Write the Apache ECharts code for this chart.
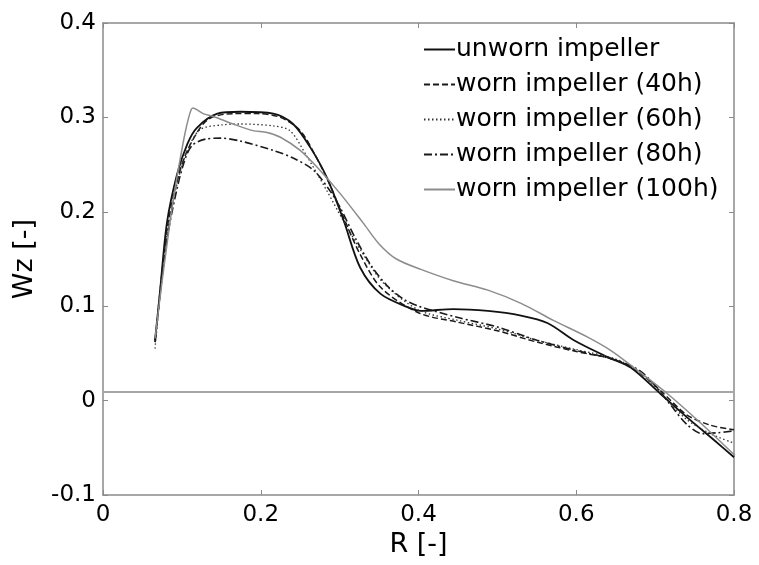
<!DOCTYPE html>
<html>
<head>
<meta charset="utf-8">
<script src="https://cdn.jsdelivr.net/npm/echarts@6/dist/echarts.min.js"></script>
<style>
  html, body { margin: 0; padding: 0; background: #fff; }
  #chart { width: 759px; height: 565px; }
</style>
</head>
<body>
<div id="chart"></div>
<script>
// Axis ranges / ticks
var xTicks = [0, 0.2, 0.4, 0.6, 0.8];
var yTicks = [-0.1, 0, 0.1, 0.2, 0.3, 0.4];

// Horizontal reference level drawn across the plot
var refLevel = 0.009;

// [R, Wz]
var unworn = [
    [0.066, 0.064], [0.072, 0.113], [0.081, 0.188], [0.094, 0.240], [0.107, 0.272],
    [0.119, 0.289], [0.145, 0.304], [0.174, 0.306], [0.216, 0.304], [0.241, 0.293],
    [0.263, 0.268], [0.284, 0.236], [0.305, 0.191], [0.326, 0.141], [0.352, 0.113],
    [0.386, 0.099], [0.403, 0.095], [0.444, 0.097], [0.488, 0.095], [0.530, 0.090],
    [0.564, 0.082], [0.597, 0.064], [0.640, 0.046], [0.669, 0.035], [0.707, 0.007],
    [0.745, -0.021], [0.775, -0.042], [0.800, -0.060]
];

var worn40 = [
    [0.066, 0.062], [0.081, 0.180], [0.094, 0.233], [0.107, 0.265], [0.132, 0.297],
    [0.165, 0.304], [0.196, 0.304], [0.225, 0.300], [0.250, 0.286], [0.269, 0.260],
    [0.288, 0.228], [0.307, 0.190], [0.326, 0.155], [0.352, 0.120], [0.400, 0.093],
    [0.450, 0.083], [0.500, 0.074], [0.550, 0.062], [0.600, 0.052], [0.650, 0.043],
    [0.680, 0.030], [0.710, 0.008], [0.740, -0.015], [0.770, -0.026], [0.800, -0.031]
];

var worn60 = [
    [0.066, 0.055], [0.080, 0.170], [0.094, 0.230], [0.107, 0.265], [0.123, 0.287],
    [0.150, 0.292], [0.174, 0.293], [0.216, 0.291], [0.237, 0.286], [0.259, 0.258],
    [0.284, 0.222], [0.305, 0.190], [0.330, 0.155], [0.355, 0.125], [0.400, 0.096],
    [0.450, 0.085], [0.500, 0.076], [0.550, 0.064], [0.600, 0.054], [0.650, 0.044],
    [0.680, 0.030], [0.710, 0.005], [0.740, -0.020], [0.770, -0.035], [0.800, -0.045]
];

var worn80 = [
    [0.066, 0.062], [0.080, 0.165], [0.094, 0.225], [0.105, 0.258], [0.114, 0.271],
    [0.130, 0.277], [0.149, 0.278], [0.174, 0.275], [0.216, 0.265], [0.241, 0.257],
    [0.267, 0.244], [0.288, 0.222], [0.301, 0.204], [0.320, 0.172], [0.340, 0.143],
    [0.360, 0.122], [0.380, 0.108], [0.400, 0.100], [0.450, 0.088], [0.500, 0.078],
    [0.550, 0.064], [0.600, 0.053], [0.650, 0.043], [0.680, 0.032], [0.700, 0.016],
    [0.720, -0.005], [0.740, -0.025], [0.760, -0.035], [0.780, -0.034], [0.800, -0.032]
];

var worn100 = [
    [0.066, 0.066], [0.075, 0.127], [0.089, 0.212], [0.102, 0.275],
    [0.110, 0.304], [0.114, 0.310], [0.127, 0.304], [0.140, 0.301], [0.165, 0.293],
    [0.190, 0.286], [0.208, 0.284], [0.225, 0.279], [0.250, 0.265], [0.275, 0.244],
    [0.301, 0.219], [0.330, 0.188], [0.350, 0.166], [0.372, 0.150], [0.403, 0.139],
    [0.444, 0.127], [0.488, 0.117], [0.530, 0.103], [0.571, 0.085], [0.615, 0.067],
    [0.644, 0.053], [0.673, 0.035], [0.716, 0.007], [0.758, -0.024], [0.801, -0.058]
];

var names = [
    'unworn impeller',
    'worn impeller (40h)',
    'worn impeller (60h)',
    'worn impeller (80h)',
    'worn impeller (100h)'
];

var font = 'DejaVu Sans';
var axisGray = '#8a8a8a';

var chart = echarts.init(document.getElementById('chart'));

function lineSeries(name, data, color, width, type) {
    return {
        name: name,
        type: 'line',
        data: data,
        showSymbol: false,
        symbol: 'none',
        smooth: 0.3,
        lineStyle: { color: color, width: width, type: type },
        itemStyle: { color: color },
        z: 3
    };
}

var refSeries = lineSeries('ref', [[xTicks[0], refLevel], [xTicks[xTicks.length - 1], refLevel]], '#a6a6a6', 2, 'solid');
refSeries.smooth = false;
refSeries.z = 2;

function boxAxis(pos) {
    return {
        type: 'value',
        position: pos,
        axisLine: { show: true, onZero: false, lineStyle: { color: axisGray, width: 1.5 } },
        axisTick: { show: true, inside: true, length: 5, lineStyle: { color: axisGray } },
        axisLabel: { show: false },
        splitLine: { show: false }
    };
}

var topAxis = boxAxis('top');
topAxis.min = xTicks[0]; topAxis.max = xTicks[4]; topAxis.interval = 0.2;
var rightAxis = boxAxis('right');
rightAxis.min = yTicks[0]; rightAxis.max = yTicks[5]; rightAxis.interval = 0.1;

var option = {
    animation: false,
    backgroundColor: '#fff',
    grid: { left: 103, right: 25, top: 23, bottom: 70 },
    legend: {
        orient: 'vertical',
        left: 418,
        top: 32,
        itemWidth: 31,
        itemHeight: 12,
        itemGap: 10,
        itemStyle: { opacity: 0 },
        data: names,
        textStyle: { fontFamily: font, fontSize: 25, color: '#000', padding: [0, 0, 0, -4] }
    },
    xAxis: [{
        type: 'value',
        min: xTicks[0],
        max: xTicks[4],
        interval: 0.2,
        name: 'R [-]',
        nameLocation: 'middle',
        nameGap: 33,
        nameTextStyle: { fontFamily: font, fontSize: 27, color: '#000' },
        axisLine: { onZero: false, lineStyle: { color: axisGray, width: 1.5 } },
        axisTick: { inside: true, length: 5, lineStyle: { color: axisGray } },
        axisLabel: { fontFamily: font, fontSize: 23, color: '#000', margin: 9 },
        splitLine: { show: false }
    }, topAxis],
    yAxis: [{
        type: 'value',
        min: yTicks[0],
        max: yTicks[5],
        interval: 0.1,
        name: 'Wz [-]',
        nameLocation: 'middle',
        nameGap: 65,
        nameTextStyle: { fontFamily: font, fontSize: 27, color: '#000' },
        axisLine: { show: true, onZero: false, lineStyle: { color: axisGray, width: 1.5 } },
        axisTick: { show: true, inside: true, length: 5, lineStyle: { color: axisGray } },
        axisLabel: { fontFamily: font, fontSize: 23, color: '#000', margin: 7 },
        splitLine: { show: false }
    }, rightAxis],
    series: [
        refSeries,
        lineSeries(names[0], unworn, '#111', 1.8, 'solid'),
        lineSeries(names[1], worn40, '#1a1a1a', 1.5, [6, 3]),
        lineSeries(names[2], worn60, '#333', 1.3, [1.5, 2.5]),
        lineSeries(names[3], worn80, '#1a1a1a', 1.6, [8, 3, 2, 3]),
        lineSeries(names[4], worn100, '#8c8c8c', 1.5, 'solid')
    ]
};

chart.setOption(option);
</script>
</body>
</html>
